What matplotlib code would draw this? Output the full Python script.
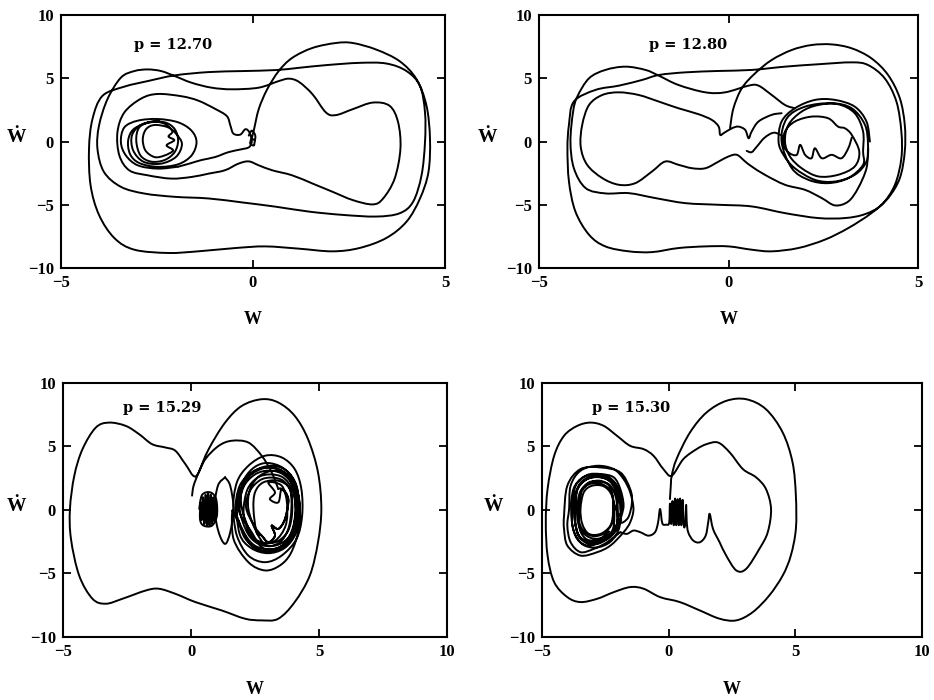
import matplotlib

matplotlib.use("Agg")
import matplotlib.pyplot as plt
from matplotlib.path import Path
from matplotlib.patches import PathPatch

plt.rcParams["font.family"] = ["Liberation Serif", "DejaVu Serif"]
plt.rcParams["font.weight"] = "bold"

# ---- p = 12.70 : phase trajectory (w, dw/dt) ----
P1270_TRAJ = [
    (-0.04, 0.2), (0.02, 0.86), (0.15, 2.56), (0.37, 4.13), (0.67, 5.57), (1.02, 6.61),
    (1.55, 7.40), (2.16, 7.79), (2.60, 7.79), (3.21, 7.27), (3.82, 6.35), (4.26, 4.92),
    (4.52, 2.82), (4.61, 0.21), (4.57, -2.41), (4.35, -4.50), (4.00, -6.33), (3.47, -7.63),
    (2.77, -8.42), (2.07, -8.68), (1.20, -8.47), (0.32, -8.29), (-0.46, -8.42), (-1.43, -8.68),
    (-2.21, -8.81), (-3.09, -8.55), (-3.61, -7.63), (-4.01, -5.80), (-4.23, -3.45), (-4.27, -0.58),
    (-4.18, 1.78), (-3.92, 3.61), (-3.35, 4.34), (-2.74, 4.78), (-2.04, 5.23), (-1.16, 5.49),
    (-0.29, 5.57), (0.59, 5.65), (1.20, 5.83), (1.90, 6.04), (2.77, 6.22), (3.47, 6.17),
    (4.00, 5.57), (4.35, 4.39), (4.48, 2.30), (4.48, -0.05), (4.39, -2.67), (4.17, -4.76),
    (3.82, -5.67), (3.21, -5.93), (2.34, -5.80), (1.46, -5.54), (0.59, -5.15), (-0.29, -4.81),
    (-1.16, -4.50), (-2.04, -4.37), (-2.83, -4.11), (-3.44, -3.58), (-3.88, -2.41), (-4.05, -0.58),
    (-4.01, 1.25), (-3.79, 3.35), (-3.44, 5.05), (-3.09, 5.57), (-2.74, 5.70), (-2.39, 5.57),
    (-2.04, 5.18), (-1.60, 4.65), (-1.08, 4.26), (-0.55, 4.13), (0.15, 4.26), (0.67, 4.78),
    (0.94, 4.97), (1.20, 4.71), (1.55, 3.74), (1.90, 2.30), (2.16, 2.09), (2.60, 2.56),
    (3.12, 3.08), (3.56, 2.82), (3.78, 1.52), (3.84, -0.58), (3.69, -2.93), (3.39, -4.50),
    (3.12, -4.97), (2.60, -4.63), (2.07, -3.97), (1.55, -3.32), (1.02, -2.67), (0.50, -2.27),
    (0.15, -1.88), (-0.11, -1.57), (-0.38, -1.75), (-0.73, -2.27), (-1.16, -2.54), (-1.60, -2.80),
    (-2.13, -2.93), (-2.74, -2.67), (-3.22, -2.28), (-3.48, -1.10), (-3.53, 0.73), (-3.35, 2.30),
    (-2.91, 3.40), (-2.48, 3.76), (-1.86, 3.58), (-1.43, 3.24), (-0.99, 2.59), (-0.68, 2.01),
    (-0.59, 1.28), (-0.51, 0.63), (-0.33, 0.55), (-0.20, 0.97), (-0.10, 0.76), (-0.03, 0.08),
    (-0.10, -0.44), (-0.33, -0.63), (-0.64, -0.84), (-0.99, -1.23), (-1.34, -1.46), (-1.64, -1.73),
    (-1.95, -1.99),
]
P1270_SPIRAL = [
    (-1.95, -1.99), (-2.48, -2.14), (-3.00, -1.88), (-3.31, -1.10), (-3.44, -0.05), (-3.35, 1.12),
    (-3.00, 1.65), (-2.48, 1.78), (-1.95, 1.52), (-1.60, 0.86), (-1.47, -0.05), (-1.60, -1.10),
    (-1.95, -1.80), (-2.48, -2.00), (-2.96, -1.70), (-3.20, -1.00), (-3.25, 0.10), (-3.10, 1.00),
    (-2.70, 1.50), (-2.30, 1.52), (-2.04, 0.99), (-1.95, 0.08), (-2.04, -0.84), (-2.30, -1.46),
    (-2.65, -1.59), (-2.93, -1.10), (-3.04, 0.08), (-2.96, 1.12), (-2.65, 1.57), (-2.30, 1.40),
    (-2.10, 0.80), (-2.20, 0.40), (-2.05, 0.10), (-2.25, -0.30), (-2.08, -0.70), (-2.30, -1.10),
    (-2.56, -1.23), (-2.80, -0.71), (-2.87, 0.21), (-2.78, 0.99), (-2.56, 1.31), (-2.21, 1.12),
    (-2.00, 0.60), (-1.85, -0.20), (-2.00, -1.20), (-2.40, -1.75), (-2.85, -1.60), (-3.12, -0.70),
    (-3.15, 0.50), (-2.90, 1.35), (-2.45, 1.65),
]
P1270_KNOT = [
    (-0.11, 0.47), (-0.03, 0.86), (0.06, 0.47), (0.04, -0.10), (0.02, -0.31), (-0.07, -0.18),
    (-0.04, 0.20), (0.05, 0.10),
]

# ---- p = 12.80 ----
P1280_TRAJ = [
    (0.04, 1.05), (0.13, 2.63), (0.35, 4.21), (0.70, 5.39), (1.14, 6.45), (1.67, 7.24),
    (2.19, 7.63), (2.72, 7.68), (3.25, 7.37), (3.77, 6.58), (4.21, 5.26), (4.52, 3.42),
    (4.65, 1.32), (4.65, -0.79), (4.52, -2.89), (4.21, -4.47), (3.77, -5.66), (3.16, -6.84),
    (2.54, -7.76), (1.84, -8.42), (1.14, -8.68), (0.61, -8.55), (0.00, -8.29), (-0.61, -8.29),
    (-1.32, -8.42), (-2.02, -8.74), (-2.63, -8.68), (-3.25, -8.29), (-3.68, -7.37), (-4.04, -5.53),
    (-4.21, -3.16), (-4.25, -0.53), (-4.21, 1.32), (-4.08, 3.16), (-3.51, 4.08), (-2.89, 4.42),
    (-2.28, 4.87), (-1.84, 5.26), (-1.14, 5.47), (-0.26, 5.58), (0.61, 5.66), (1.49, 5.92),
    (2.37, 6.11), (3.25, 6.26), (3.68, 6.05), (4.12, 5.00), (4.43, 3.16), (4.56, 0.79),
    (4.56, -1.32), (4.39, -3.42), (4.04, -5.00), (3.60, -5.74), (3.07, -6.05), (2.37, -6.05),
    (1.49, -5.66), (0.61, -5.13), (-0.26, -5.00), (-1.14, -4.87), (-1.93, -4.47), (-2.63, -4.08),
    (-3.25, -4.10), (-3.77, -3.68), (-4.08, -2.11), (-4.17, 0.00), (-4.10, 2.37), (-3.99, 3.55),
    (-3.68, 5.00), (-3.25, 5.66), (-2.72, 5.92), (-2.19, 5.66), (-1.84, 5.21), (-1.32, 4.47),
    (-0.61, 3.89), (-0.09, 3.89), (0.53, 4.42), (0.79, 4.42), (1.14, 3.68), (1.49, 2.89),
    (1.75, 2.63),
]
P1280_LOBE = [
    (1.40, 2.24), (1.14, 2.11), (0.79, 1.58), (0.61, 0.79), (0.53, 0.26), (0.44, 0.92),
    (0.26, 1.18), (0.09, 1.05), (-0.13, 0.66), (-0.22, 0.53), (-0.26, 1.18), (-0.44, 1.71),
    (-0.79, 2.16), (-1.32, 2.63), (-1.84, 3.16), (-2.37, 3.68), (-2.89, 3.89), (-3.33, 3.68),
    (-3.68, 2.89), (-3.86, 1.32), (-3.90, -0.40), (-3.73, -1.84), (-3.33, -2.89), (-2.89, -3.42),
    (-2.46, -3.29), (-2.02, -2.37), (-1.67, -1.58), (-1.32, -1.84), (-0.96, -2.11), (-0.61, -2.11),
    (-0.26, -1.58), (0.00, -1.18), (0.22, -1.05), (0.44, -1.58), (0.61, -1.97), (0.96, -2.63),
    (1.49, -3.42), (2.02, -3.82), (2.46, -4.47), (2.81, -5.05), (3.16, -4.74), (3.42, -3.68),
    (3.64, -2.11), (3.68, -0.53),
]
P1280_SPIRAL = [
    (3.73, 0.00), (3.64, 1.58), (3.33, 2.76), (2.81, 3.29), (2.28, 3.29), (1.75, 2.63),
    (1.40, 1.58), (1.32, 0.00), (1.45, -1.05), (1.75, -2.11), (2.28, -3.03), (2.81, -3.16),
    (3.33, -2.63), (3.64, -1.58), (3.68, -0.26), (3.60, 1.32), (3.25, 2.63), (2.72, 3.03),
    (2.02, 2.76), (1.54, 1.84), (1.40, 0.00), (1.67, -2.11), (2.11, -3.03), (2.63, -3.29),
    (3.16, -2.89), (3.55, -1.84), (3.55, -0.79), (3.55, 0.79), (3.33, 2.24), (2.89, 2.95),
    (2.37, 2.89), (1.93, 2.37), (1.58, 1.32), (1.49, 0.00), (1.62, -1.18), (1.93, -2.11),
    (2.37, -2.76), (2.89, -2.63), (3.33, -1.97), (3.45, -0.80), (3.25, 0.53), (3.07, 1.05),
    (2.89, 1.18), (2.63, 1.84), (2.19, 1.97), (1.75, 1.58), (1.49, 0.79), (1.45, -0.26),
    (1.60, -0.90), (1.80, -1.05), (1.89, -0.26), (2.02, -1.05), (2.19, -1.32), (2.28, -0.53),
    (2.46, -1.32), (2.72, -1.05), (2.98, -1.32), (3.16, -0.53), (3.25, 0.30),
]
P1280_TAIL = [(0.48, -0.74), (0.61, -0.84), (0.75, -0.39), (0.95, 0.30), (1.20, 0.70), (1.45, 0.40)]

# ---- p = 15.29 ----
P1529_TRAJ = [
    (0.04, 1.13), (0.10, 1.91), (0.30, 2.96), (0.69, 4.79), (1.33, 6.88), (1.98, 8.19),
    (2.76, 8.72), (3.41, 8.46), (4.05, 7.41), (4.57, 5.58), (4.96, 2.96), (5.09, 0.08),
    (4.96, -2.54), (4.64, -5.16), (4.05, -7.25), (3.41, -8.56), (2.76, -8.69), (2.11, -8.56),
    (1.20, -7.91), (0.17, -7.25), (-0.61, -6.60), (-1.26, -6.20), (-1.77, -6.34), (-2.68, -6.99),
    (-3.33, -7.38), (-3.85, -6.99), (-4.37, -5.16), (-4.69, -2.28), (-4.73, 0.08), (-4.56, 2.70),
    (-4.24, 4.79), (-3.72, 6.49), (-3.20, 6.88), (-2.55, 6.62), (-2.03, 5.97), (-1.52, 5.18),
    (-1.00, 4.92), (-0.61, 4.66), (-0.22, 3.61), (0.17, 2.64), (0.56, 4.01), (1.08, 5.05),
    (1.59, 5.45), (2.24, 5.31), (2.76, 4.27), (3.15, 2.96), (3.41, 1.65),
]
P1529_TANGLE = [
    (3.41, 1.65), (3.54, 1.65), (3.80, 0.86), (3.67, -0.71), (3.41, -1.49), (3.15, -1.23),
    (3.28, -2.02), (3.02, -2.54), (2.76, -2.02), (2.56, -1.75), (2.44, 0.08), (2.50, 1.39),
    (2.82, 2.17), (3.41, 2.30), (3.86, 1.65), (3.92, 0.08), (3.80, -1.49), (3.47, -2.54),
    (2.95, -2.80), (2.56, -1.75), (2.24, 0.08), (2.31, 1.65), (2.69, 2.70), (3.28, 3.09),
    (3.80, 2.57), (4.05, 1.13), (4.05, -0.71), (3.86, -2.28), (3.28, -3.06), (2.76, -2.93),
    (2.37, -1.75), (1.85, 0.08), (2.05, 1.91), (2.50, 3.09), (3.15, 3.48), (3.73, 3.09),
    (4.12, 1.91), (4.21, 0.08), (4.05, -1.75), (3.60, -2.93), (3.02, -3.32), (2.37, -2.80),
    (1.98, -1.49), (1.66, 0.08), (1.79, 2.17), (2.24, 3.48), (2.89, 4.27), (3.54, 4.14),
    (4.05, 3.22), (4.31, 1.65), (4.34, -0.45), (4.12, -2.28), (3.54, -3.59), (2.89, -4.11),
    (2.24, -3.59), (1.79, -2.02), (1.62, 0.00), (1.66, -2.28), (2.24, -4.11), (2.89, -4.76),
    (3.47, -4.37), (3.90, -3.40), (4.20, -1.60), (4.25, 0.30), (4.05, 2.20), (3.60, 3.30),
    (3.00, 3.70), (2.50, 3.40), (2.10, 2.50), (1.95, 1.20), (2.00, 0.00), (2.30, -1.90),
    (2.76, -2.60), (3.30, -2.40), (3.70, -1.20), (3.75, 0.50), (3.55, 1.90), (3.02, 2.17),
    (3.28, 1.39), (3.08, 0.86), (3.41, 0.60), (3.54, 1.65), (3.80, 0.86), (3.67, -0.71),
    (3.41, -1.49), (3.15, -1.23), (3.28, -2.02), (3.02, -2.54), (2.76, -2.02), (2.45, -1.20),
    (2.15, 0.20), (2.30, 1.50), (2.70, 2.35), (3.15, 2.55), (3.60, 2.30), (3.90, 1.40),
    (3.95, -0.20), (3.80, -1.60), (3.40, -2.45), (2.90, -2.60), (2.45, -2.20), (2.20, -1.20),
    (2.05, -0.10), (2.20, 1.60), (2.60, 2.55), (3.10, 2.80), (3.60, 2.55), (3.95, 1.60),
    (4.10, -0.10), (3.95, -1.70), (3.55, -2.60), (3.00, -2.85), (2.50, -2.50), (2.15, -1.60),
    (1.90, 0.10), (2.05, 1.80), (2.50, 2.80), (3.05, 3.10), (3.60, 2.80), (4.00, 1.80),
    (4.15, 0.00), (4.00, -1.70), (3.60, -2.80), (3.00, -3.10), (2.45, -2.75), (2.05, -1.70),
    (1.75, 0.00), (1.90, 1.90), (2.40, 3.00), (3.00, 3.35), (3.60, 3.00), (4.05, 2.00),
    (4.25, 0.20), (4.10, -1.80), (3.65, -3.00), (3.00, -3.40), (2.35, -3.00), (1.90, -1.90),
    (1.80, 0.50), (2.10, 2.30), (2.70, 3.20), (3.30, 3.30), (3.85, 2.60), (4.10, 1.20),
    (4.05, -0.80), (3.75, -2.40), (3.20, -3.20), (2.60, -3.10), (2.10, -2.20), (1.85, -0.80),
]
P1529_LENS = [
    (1.33, 2.57), (1.53, 1.91), (1.66, 0.08), (1.53, -1.75), (1.33, -2.67), (1.08, -1.75),
    (0.92, 0.08), (1.05, 1.91), (1.33, 2.57),
]
P1529_BLOB = [
    (0.32, 0.08), (0.43, 1.18), (0.75, 1.39), (0.98, 0.86), (1.01, -0.45), (0.82, -1.23),
    (0.49, -1.23), (0.35, -0.71), (0.38, 0.60), (0.42, -0.80), (0.47, 1.00), (0.52, -1.10),
    (0.57, 1.20), (0.62, -1.20), (0.67, 1.30), (0.72, -1.20), (0.77, 1.20), (0.82, -1.10),
    (0.87, 1.00), (0.92, -0.90), (0.96, 0.70), (0.99, -0.40),
]

# ---- p = 15.30 ----
P1530_TRAJ = [
    (0.05, 0.86), (0.08, 1.80), (0.12, 2.70), (0.31, 4.01), (0.84, 6.10), (1.49, 7.67),
    (2.27, 8.59), (3.06, 8.72), (3.84, 7.93), (4.50, 6.10), (4.89, 3.74), (5.02, 1.13),
    (5.02, -1.49), (4.82, -3.59), (4.50, -5.16), (3.97, -6.73), (3.32, -8.04), (2.67, -8.69),
    (2.01, -8.56), (1.23, -7.91), (0.44, -7.25), (-0.34, -6.86), (-0.99, -6.20), (-1.52, -6.07),
    (-2.17, -6.47), (-2.82, -6.99), (-3.48, -7.25), (-4.00, -6.86), (-4.52, -5.68), (-4.78, -3.59),
    (-4.85, -0.97), (-4.78, 1.65), (-4.52, 4.27), (-4.13, 5.84), (-3.61, 6.62), (-3.08, 6.88),
    (-2.56, 6.62), (-2.04, 5.84), (-1.52, 5.05), (-0.99, 4.79), (-0.60, 4.27), (-0.21, 3.22),
    (0.12, 2.70), (0.58, 4.01), (1.10, 4.79), (1.49, 5.18), (1.95, 5.31), (2.41, 4.53),
    (2.93, 3.22), (3.45, 2.57), (3.84, 1.65), (4.04, 0.08), (3.91, -1.75), (3.58, -3.06),
    (3.06, -4.63), (2.67, -4.76), (2.27, -3.59), (2.01, -2.54), (1.75, -1.49), (1.62, -0.31),
    (1.56, -0.97), (1.46, -2.02), (1.23, -2.54), (0.97, -2.41), (0.77, -1.75), (0.71, -0.84),
    (0.69, 0.40), (0.66, -1.00), (0.60, -1.25), (0.55, 0.80), (0.50, -1.20), (0.45, 0.90),
    (0.40, -1.20), (0.35, 0.85), (0.30, -1.20), (0.25, 0.90), (0.20, -1.20), (0.15, 0.70),
    (0.10, -1.10), (0.05, 0.50), (0.02, -1.00), (-0.10, -1.15), (-0.25, -1.05), (-0.34, 0.08),
    (-0.42, -1.00), (-0.54, -1.75), (-0.80, -2.02), (-1.12, -1.75), (-1.39, -1.62), (-1.65, -1.88),
    (-1.91, -1.75),
]
P1530_SPIRAL = [
    (-1.91, -1.75), (-2.43, -2.54), (-2.95, -3.06), (-3.48, -3.32), (-3.87, -2.54), (-4.00, -1.23),
    (-3.93, 0.08), (-3.87, 1.91), (-3.48, 3.09), (-2.82, 3.48), (-2.17, 3.22), (-1.78, 2.43),
    (-1.52, 1.39), (-1.39, 0.08), (-1.52, -0.97), (-1.78, -1.75), (-2.30, -2.80), (-2.82, -3.32),
    (-3.48, -3.59), (-4.00, -2.80), (-4.13, -1.49), (-4.13, -0.45), (-4.00, 1.91), (-3.48, 3.22),
    (-2.69, 3.35), (-1.91, 2.96), (-1.52, 1.65), (-1.45, 0.60), (-1.60, -0.60), (-1.91, -0.97),
    (-1.78, 0.34), (-1.91, 1.65), (-2.17, 2.57), (-2.69, 2.83), (-3.22, 2.75), (-3.67, 1.91),
    (-3.80, 0.08), (-3.80, -1.23), (-3.61, -2.28), (-3.22, -2.80), (-2.69, -2.54), (-2.24, -2.02),
    (-1.91, -0.97), (-1.91, 0.08), (-1.97, 1.13), (-2.24, 2.17), (-2.69, 2.57), (-3.22, 2.43),
    (-3.61, 1.65), (-3.74, 0.08), (-3.61, -1.75), (-3.28, -2.41), (-2.82, -2.41), (-2.37, -2.02),
    (-2.04, -1.23), (-2.04, -0.45), (-2.07, 0.86), (-2.30, 1.91), (-2.69, 2.23), (-3.15, 2.17),
    (-3.50, 1.39), (-3.61, 0.08), (-3.58, -0.97), (-3.41, -1.75), (-3.02, -2.23), (-2.56, -2.15),
    (-2.20, -1.49), (-2.15, 0.30), (-2.30, 1.50), (-2.65, 2.05), (-3.10, 2.05), (-3.45, 1.50),
    (-3.55, 0.00), (-3.55, -0.80), (-3.38, -1.60), (-3.00, -2.05), (-2.55, -1.85), (-2.25, -1.10),
    (-2.17, -0.18), (-2.24, 1.13), (-2.56, 1.86), (-3.02, 1.91), (-3.35, 1.39), (-3.48, 0.08),
    (-3.41, -1.10), (-3.15, -1.88), (-2.69, -1.88), (-2.30, -1.23), (-2.17, -0.18), (-1.98, 1.00),
    (-2.15, 2.20), (-2.65, 2.65), (-3.20, 2.55), (-3.58, 1.80), (-3.68, 0.20), (-3.68, -1.00),
    (-3.52, -2.10), (-3.10, -2.55), (-2.60, -2.35), (-2.15, -1.70), (-1.98, -0.50), (-1.85, 0.00),
    (-1.95, 1.50), (-2.30, 2.50), (-2.80, 2.80), (-3.35, 2.60), (-3.75, 1.70), (-3.85, 0.00),
    (-3.75, -1.60), (-3.40, -2.70), (-2.85, -2.95), (-2.30, -2.50), (-1.95, -1.40), (-2.00, -0.30),
    (-2.05, 1.20), (-2.30, 2.20), (-2.75, 2.60), (-3.25, 2.40), (-3.62, 1.50), (-3.70, -0.20),
    (-3.68, -1.20), (-3.50, -2.20), (-3.10, -2.70), (-2.60, -2.50), (-2.15, -1.60), (-2.20, -0.60),
    (-2.20, 0.90), (-2.35, 1.90), (-2.70, 2.30), (-3.10, 2.15), (-3.45, 1.40), (-3.52, 0.10),
    (-3.55, -0.70), (-3.48, -1.70), (-3.20, -2.35), (-2.75, -2.30), (-2.35, -1.70),
]

PANELS = [
    {"p": "p = 12.70", "xmax": 5, "rect": [0.0653, 0.6171, 0.4111, 0.3614], "ptext": (0.19, 0.88),
     "ylab_x": -0.115, "curves": [P1270_TRAJ, P1270_SPIRAL, P1270_KNOT]},
    {"p": "p = 12.80", "xmax": 5, "rect": [0.5771, 0.6171, 0.4058, 0.3614], "ptext": (0.29, 0.88),
     "ylab_x": -0.135, "curves": [P1280_TRAJ, P1280_LOBE, P1280_SPIRAL, P1280_TAIL]},
    {"p": "p = 15.29", "xmax": 10, "rect": [0.0675, 0.0900, 0.4111, 0.3629], "ptext": (0.155, 0.90),
     "ylab_x": -0.122, "curves": [P1529_TRAJ, P1529_TANGLE, P1529_LENS, P1529_BLOB]},
    {"p": "p = 15.30", "xmax": 10, "rect": [0.5803, 0.0900, 0.4069, 0.3629], "ptext": (0.132, 0.90),
     "ylab_x": -0.129, "curves": [P1530_TRAJ, P1530_SPIRAL]},
]


def smooth_path(points):
    # Catmull-Rom through the read points, drawn as cubic Bezier segments
    verts = [points[0]]
    codes = [Path.MOVETO]
    n = len(points)
    for i in range(n - 1):
        p0 = points[max(i - 1, 0)]
        p1 = points[i]
        p2 = points[i + 1]
        p3 = points[min(i + 2, n - 1)]
        c1 = (p1[0] + (p2[0] - p0[0]) / 6, p1[1] + (p2[1] - p0[1]) / 6)
        c2 = (p2[0] - (p3[0] - p1[0]) / 6, p2[1] - (p3[1] - p1[1]) / 6)
        verts += [c1, c2, p2]
        codes += [Path.CURVE4] * 3
    return Path(verts, codes)


fig = plt.figure(figsize=(9.34, 7.0), dpi=100)
for panel in PANELS:
    ax = fig.add_axes(panel["rect"])
    for curve in panel["curves"]:
        ax.add_patch(PathPatch(smooth_path(curve), facecolor="none", edgecolor="black",
                               linewidth=1.4, joinstyle="round", capstyle="round"))
    ax.set_xlim(-5, panel["xmax"])
    ax.set_ylim(-10, 10)
    ax.set_xticks(list(range(-5, panel["xmax"] + 1, 5)))
    ax.set_yticks([-10, -5, 0, 5, 10])
    ax.tick_params(direction="in", top=True, right=True, length=6, width=1.3, labelsize=12, pad=5)
    for spine in ax.spines.values():
        spine.set_linewidth(1.5)
    ax.text(panel["ptext"][0], panel["ptext"][1], panel["p"], transform=ax.transAxes,
            ha="left", va="center", fontsize=10.5, fontweight="bold", family="DejaVu Serif")
    ax.text(0.5, -0.205, "W", transform=ax.transAxes, ha="center", va="center",
            fontsize=13, fontweight="bold")
    ax.text(panel["ylab_x"], 0.515, "\u1e86", transform=ax.transAxes, ha="center", va="center",
            fontsize=14, fontweight="bold")

fig.savefig("out.png", dpi=100)
